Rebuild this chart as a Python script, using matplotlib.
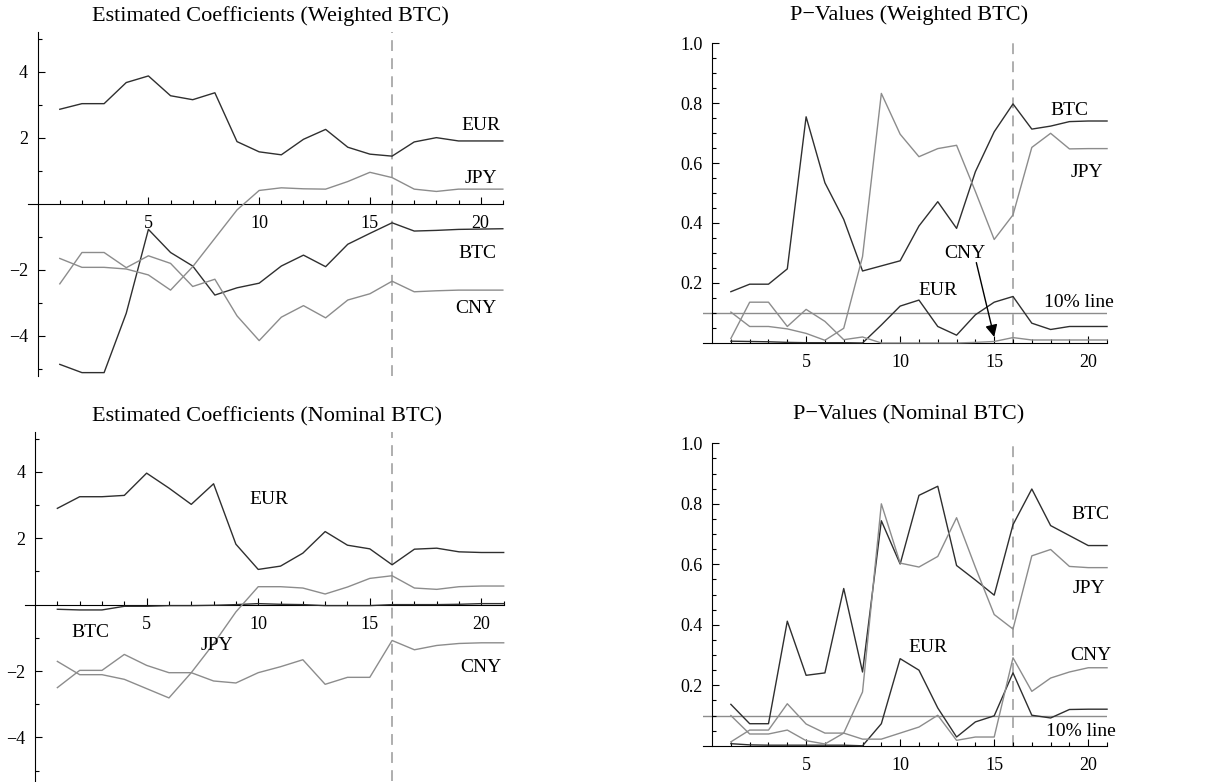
"""
Rolling-window regression summary: estimated coefficients and p-values
for weighted and nominal BTC models.
"""

import matplotlib.pyplot as plt
from matplotlib.ticker import FixedLocator, FuncFormatter


plt.rcParams["font.family"] = ["Liberation Serif", "DejaVu Serif"]
plt.rcParams["axes.unicode_minus"] = True

OUTPUT_PLOT_FILE = "out.png"

# window index on the x axis
PERIODS = [1, 2, 3, 4, 5, 6, 7, 8, 9, 10, 11, 12, 13, 14, 15, 16, 17, 18, 19, 20, 21]
BREAK_PERIOD = 16
SIGNIFICANCE = 0.1

# estimated coefficients, weighted BTC
coef_w_eur = [2.87, 3.04, 3.04, 3.68, 3.88, 3.28, 3.16, 3.37, 1.89, 1.58, 1.49,
              1.96, 2.26, 1.72, 1.51, 1.45, 1.88, 2.01, 1.91, 1.91, 1.91]
coef_w_jpy = [-1.65, -1.92, -1.92, -1.97, -2.15, -2.61, -1.90, -1.04, -0.18, 0.41, 0.49,
              0.46, 0.45, 0.68, 0.96, 0.80, 0.45, 0.38, 0.45, 0.45, 0.45]
coef_w_cny = [-2.42, -1.47, -1.47, -1.93, -1.57, -1.80, -2.50, -2.28, -3.39, -4.14, -3.43,
              -3.08, -3.45, -2.91, -2.72, -2.34, -2.66, -2.63, -2.61, -2.61, -2.61]
coef_w_btc = [-4.86, -5.11, -5.11, -3.31, -0.77, -1.47, -1.88, -2.76, -2.54, -2.40, -1.88,
              -1.55, -1.90, -1.22, -0.89, -0.57, -0.82, -0.80, -0.77, -0.76, -0.75]

# p-values, weighted BTC
p_w_btc = [0.171, 0.196, 0.196, 0.247, 0.754, 0.534, 0.412, 0.240, 0.257, 0.274, 0.390,
           0.471, 0.382, 0.571, 0.704, 0.797, 0.713, 0.723, 0.738, 0.740, 0.740]
p_w_jpy = [0.103, 0.055, 0.055, 0.047, 0.032, 0.009, 0.049, 0.288, 0.832, 0.696, 0.621,
           0.648, 0.659, 0.505, 0.345, 0.427, 0.652, 0.699, 0.647, 0.648, 0.648]
p_w_cny = [0.015, 0.136, 0.136, 0.055, 0.112, 0.072, 0.011, 0.020, 0.000, 0.000, 0.000,
           0.000, 0.000, 0.002, 0.005, 0.018, 0.010, 0.010, 0.010, 0.010, 0.010]
p_w_eur = [0.006, 0.005, 0.004, 0.002, 0.001, 0.001, 0.001, 0.000, 0.060, 0.123, 0.143,
           0.055, 0.026, 0.094, 0.136, 0.155, 0.066, 0.045, 0.055, 0.055, 0.055]

# estimated coefficients, nominal BTC
coef_n_eur = [2.90, 3.25, 3.25, 3.29, 3.96, 3.51, 3.02, 3.64, 1.82, 1.06, 1.16,
              1.55, 2.20, 1.79, 1.68, 1.20, 1.67, 1.70, 1.59, 1.57, 1.57]
coef_n_jpy = [-1.71, -2.11, -2.11, -2.25, -2.53, -2.81, -2.05, -1.18, -0.22, 0.54, 0.54,
              0.50, 0.32, 0.53, 0.79, 0.87, 0.50, 0.46, 0.54, 0.56, 0.56]
coef_n_cny = [-2.50, -1.98, -1.98, -1.50, -1.83, -2.05, -2.05, -2.30, -2.36, -2.05, -1.87,
              -1.66, -2.40, -2.19, -2.19, -1.08, -1.36, -1.23, -1.17, -1.15, -1.15]
coef_n_btc = [-0.14, -0.16, -0.16, -0.05, -0.05, -0.03, -0.03, -0.02, 0.00, 0.03, 0.01,
              0.00, -0.03, -0.03, -0.03, 0.00, 0.00, 0.00, 0.01, 0.03, 0.03]

# p-values, nominal BTC
p_n_btc = [0.137, 0.073, 0.073, 0.412, 0.233, 0.241, 0.520, 0.244, 0.744, 0.601, 0.828,
           0.858, 0.596, 0.548, 0.498, 0.731, 0.849, 0.728, 0.695, 0.662, 0.662]
p_n_jpy = [0.100, 0.039, 0.039, 0.052, 0.017, 0.006, 0.042, 0.178, 0.800, 0.604, 0.591,
           0.626, 0.754, 0.590, 0.434, 0.386, 0.628, 0.649, 0.593, 0.589, 0.589]
p_n_cny = [0.013, 0.052, 0.052, 0.139, 0.072, 0.042, 0.042, 0.022, 0.022, 0.042, 0.062,
           0.101, 0.018, 0.029, 0.029, 0.291, 0.180, 0.224, 0.244, 0.258, 0.258]
p_n_eur = [0.007, 0.003, 0.002, 0.002, 0.002, 0.002, 0.002, 0.000, 0.073, 0.288, 0.250,
           0.125, 0.029, 0.079, 0.099, 0.241, 0.101, 0.092, 0.120, 0.121, 0.121]

DARK = "#2f2f2f"
GRAY = "#8c8c8c"
DASH_COLOR = "#a8a8a8"

X_MAJOR = [5, 10, 15, 20]
X_MINOR = [1, 2, 3, 4, 6, 7, 8, 9, 11, 12, 13, 14, 16, 17, 18, 19, 21]


def style_axes(axis, xlim, ylim, y_major, y_minor, y_fmt):
    """Put Mathematica-like axes through the origin with inward ticks."""
    axis.set_xlim(*xlim)
    axis.set_ylim(*ylim)
    for side in ("top", "right"):
        axis.spines[side].set_visible(False)
    axis.spines["left"].set_position(("data", 0))
    axis.spines["bottom"].set_position(("data", 0))
    for side in ("left", "bottom"):
        axis.spines[side].set_linewidth(0.8)

    axis.xaxis.set_major_locator(FixedLocator(X_MAJOR))
    axis.xaxis.set_minor_locator(FixedLocator(X_MINOR))
    axis.yaxis.set_major_locator(FixedLocator(y_major))
    axis.yaxis.set_minor_locator(FixedLocator(y_minor))
    axis.yaxis.set_major_formatter(FuncFormatter(y_fmt))

    axis.tick_params(which="both", direction="in", width=0.8, labelsize=13)
    axis.tick_params(which="major", length=5)
    axis.tick_params(which="minor", length=3)
    axis.tick_params(axis="x", pad=8)
    axis.tick_params(axis="y", pad=7)
    axis.patch.set_alpha(0)


def draw_series(axis, series):
    """Draw each (values, colour) pair as a thin line."""
    for values, colour in series:
        axis.plot(PERIODS, values, color=colour, lw=1.0, clip_on=False, zorder=3)
    axis.axvline(BREAK_PERIOD, color=DASH_COLOR, lw=1.3, dashes=(6, 4), zorder=1)


def coef_format(value, _pos):
    return f"{value:g}".replace("-", "\u2212")


def pval_format(value, _pos):
    return f"{value:.1f}"


def main():
    figure = plt.figure(figsize=(12.14, 7.82), dpi=100)

    coef_ticks = ([-4, -2, 2, 4], [-5, -3, -1, 1, 3, 5])
    pval_ticks = ([0.2, 0.4, 0.6, 0.8, 1.0],
                  [0.05, 0.1, 0.15, 0.25, 0.3, 0.35, 0.45, 0.5, 0.55,
                   0.65, 0.7, 0.75, 0.85, 0.9, 0.95])

    # top left
    axis_1 = figure.add_axes([0.0228, 0.5197, 0.3914, 0.4389])
    style_axes(axis_1, (-0.45, 21), (-5.2, 5.2), *coef_ticks, coef_format)
    draw_series(axis_1, [(coef_w_eur, DARK), (coef_w_btc, DARK),
                         (coef_w_jpy, GRAY), (coef_w_cny, GRAY)])
    for name, x_pos, y_pos in [("EUR", 20.0, 2.37), ("JPY", 20.0, 0.78),
                               ("BTC", 19.85, -1.51), ("CNY", 19.8, -3.18)]:
        axis_1.text(x_pos, y_pos, name, ha="center", va="center", fontsize=14)

    # top right
    axis_2 = figure.add_axes([0.5788, 0.5614, 0.3331, 0.3836])
    style_axes(axis_2, (-0.5, 21), (0, 1.0), *pval_ticks, pval_format)
    axis_2.axhline(SIGNIFICANCE, color=GRAY, lw=1.0, zorder=1)
    draw_series(axis_2, [(p_w_btc, DARK), (p_w_eur, DARK),
                         (p_w_jpy, GRAY), (p_w_cny, GRAY)])
    for name, x_pos, y_pos in [("BTC", 19.0, 0.776), ("JPY", 19.92, 0.568),
                               ("CNY", 13.45, 0.297), ("EUR", 12.0, 0.175),
                               ("10% line", 19.5, 0.136)]:
        axis_2.text(x_pos, y_pos, name, ha="center", va="center", fontsize=14)
    axis_2.annotate("", xy=(15.0, 0.02), xytext=(14.05, 0.268),
                    arrowprops=dict(arrowstyle="-|>", color="black", lw=1.0,
                                    mutation_scale=18, shrinkA=0, shrinkB=0))

    # bottom left
    axis_3 = figure.add_axes([0.0206, 0.0018, 0.3943, 0.4458])
    style_axes(axis_3, (-0.45, 21), (-5.3, 5.2), *coef_ticks, coef_format)
    draw_series(axis_3, [(coef_n_eur, DARK), (coef_n_btc, DARK),
                         (coef_n_jpy, GRAY), (coef_n_cny, GRAY)])
    for name, x_pos, y_pos in [("EUR", 10.46, 3.17), ("BTC", 2.47, -0.84),
                               ("JPY", 8.13, -1.24), ("CNY", 20.0, -1.88)]:
        axis_3.text(x_pos, y_pos, name, ha="center", va="center", fontsize=14)

    # bottom right
    axis_4 = figure.add_axes([0.5788, 0.0463, 0.3331, 0.3868])
    style_axes(axis_4, (-0.5, 21), (0, 1.0), *pval_ticks, pval_format)
    axis_4.axhline(SIGNIFICANCE, color=GRAY, lw=1.0, zorder=1)
    draw_series(axis_4, [(p_n_btc, DARK), (p_n_eur, DARK),
                         (p_n_jpy, GRAY), (p_n_cny, GRAY)])
    for name, x_pos, y_pos in [("BTC", 20.1, 0.764), ("JPY", 20.04, 0.52),
                               ("CNY", 20.13, 0.297), ("EUR", 11.5, 0.325),
                               ("10% line", 19.6, 0.048)]:
        axis_4.text(x_pos, y_pos, name, ha="center", va="center", fontsize=14)

    titles = [
        (0.2224, 0.980, "Estimated Coefficients (Weighted BTC)"),
        (0.7488, 0.981, "P\u2212Values (Weighted BTC)"),
        (0.2200, 0.4670, "Estimated Coefficients (Nominal BTC)"),
        (0.7488, 0.4693, "P\u2212Values (Nominal BTC)"),
    ]
    for x_pos, y_pos, text in titles:
        figure.text(x_pos, y_pos, text, ha="center", va="center", fontsize=16)

    figure.savefig(OUTPUT_PLOT_FILE, dpi=100)
    plt.close(figure)


if __name__ == "__main__":
    main()
